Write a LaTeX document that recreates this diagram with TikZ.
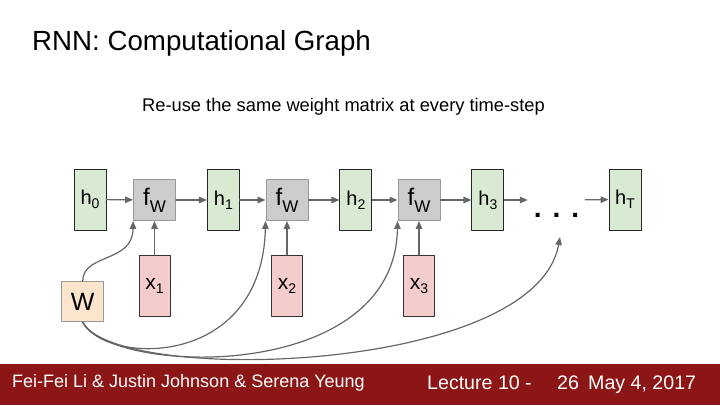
\documentclass[tikz,border=0pt]{standalone}
\usepackage{fontspec}
\setmainfont{Liberation Sans}
\usepackage{xcolor}
\usepackage{tikz}
\usetikzlibrary{arrows.meta,positioning,calc}
\definecolor{hgreen}{HTML}{D9EAD3}
\definecolor{fgray}{HTML}{CCCCCC}
\definecolor{xpink}{HTML}{F4CCCC}
\definecolor{wpeach}{HTML}{FCE5CD}
\definecolor{edgegray}{HTML}{999999}
\definecolor{arrowgray}{HTML}{666666}
\definecolor{cardinal}{HTML}{8C1515}
\newcommand{\lowidx}[2]{\raisebox{#1}{\fontsize{14}{14}\selectfont #2}}
\tikzset{
    every picture/.style={line cap=round,line join=round},
    hnode/.style={draw=black!85,fill=hgreen,line width=0.9pt,
      minimum width=32pt,minimum height=61pt,inner sep=0pt,
      font=\fontsize{20}{20}\selectfont},
    fnode/.style={draw=edgegray,fill=fgray,line width=0.9pt,
      minimum width=42pt,minimum height=41pt,inner sep=0pt},
    xnode/.style={draw=black!80,fill=xpink,line width=0.9pt,
      minimum width=31pt,minimum height=61pt,inner sep=0pt,
      font=\fontsize{21}{21}\selectfont},
    wnode/.style={draw=edgegray,fill=wpeach,line width=0.9pt,
      minimum width=42pt,minimum height=40pt,inner sep=0pt,
      font=\fontsize{25}{25}\selectfont},
    flowarrow/.style={-{Triangle[length=8pt,width=6.5pt]},draw=arrowgray,
      line width=1.2pt},
    footertext/.style={anchor=base west,text=white,inner sep=0pt,
      font=\fontsize{18}{18}\selectfont}
}

\begin{document}
\begin{tikzpicture}[x=1pt,y=1pt]
  \useasboundingbox (0,0) rectangle (720,405);
  \fill[cardinal] (0,0) rectangle (720,41);
  \node[anchor=base west,inner sep=0pt,font=\fontsize{27.7}{28}\selectfont]
    (title) at (32,354) {RNN: Computational Graph};
  \node[anchor=base,inner sep=0pt,font=\fontsize{18.3}{19}\selectfont]
    (caption) at (343.5,293) {Re-use the same weight matrix at every time-step};
  % hidden states and steps
  \node[hnode] (h0) at (90,205.5) {h\lowidx{-4pt}{0}};
  \foreach \i/\x in {1/154.5,2/287,3/419} {
    \node[fnode] (f\i) at (\x,205)
      {{\fontsize{24}{24}\selectfont f}\raisebox{-7pt}{\fontsize{17}{17}\selectfont W}};
    \node[hnode,right=31pt of f\i] (h\i) {h\lowidx{-4pt}{\i}};
    \node[xnode] (x\i) at (\x,119) {x\lowidx{-4pt}{\i}};
    \draw[flowarrow] (x\i) -- (f\i);
    \draw[flowarrow] (f\i) -- (h\i);
  }
  \draw[flowarrow] (h0) -- (f1);
  \draw[flowarrow] (h1) -- (f2);
  \draw[flowarrow] (h2) -- (f3);
  \node[minimum width=57pt,inner sep=0pt,text height=34pt,text depth=0pt,
    font=\bfseries\fontsize{28}{28}\selectfont] (dots) at (556.5,205)
    {.\hspace{11pt}.\hspace{11pt}.};
  \node[hnode] (hT) at (625,205.5) {h\lowidx{-4pt}{T}};
  \draw[flowarrow] (h3) -- (dots);
  \draw[flowarrow] (dots) -- (hT);
  % shared weight
  \node[wnode] (W) at (82.7,103.3) {W};
  \coordinate (dotsin) at (560,168);
  \draw[flowarrow] (W.north) .. controls +(0,28) and +(0,-42) .. (f1.south west);
  \draw[flowarrow] (W.south) .. controls (105,40) and (262,35) .. (f2.south west);
  \draw[flowarrow] (W.south) .. controls (110,30) and (395,20) .. (f3.south west);
  \draw[flowarrow] (W.south) .. controls (115,20) and (535,30) .. (dotsin);
  % footer
  \node[footertext] (authors) at (12,18) {Fei-Fei Li \& Justin Johnson \& Serena Yeung};
  \node[footertext,font=\fontsize{19.6}{20}\selectfont] (lecture) at (427,16) {Lecture 10 -};
  \node[footertext,font=\fontsize{19.6}{20}\selectfont] (page) at (557,16) {26};
  \node[footertext,font=\fontsize{19.6}{20}\selectfont] (date) at (588,16) {May 4, 2017};
\end{tikzpicture}
\end{document}
